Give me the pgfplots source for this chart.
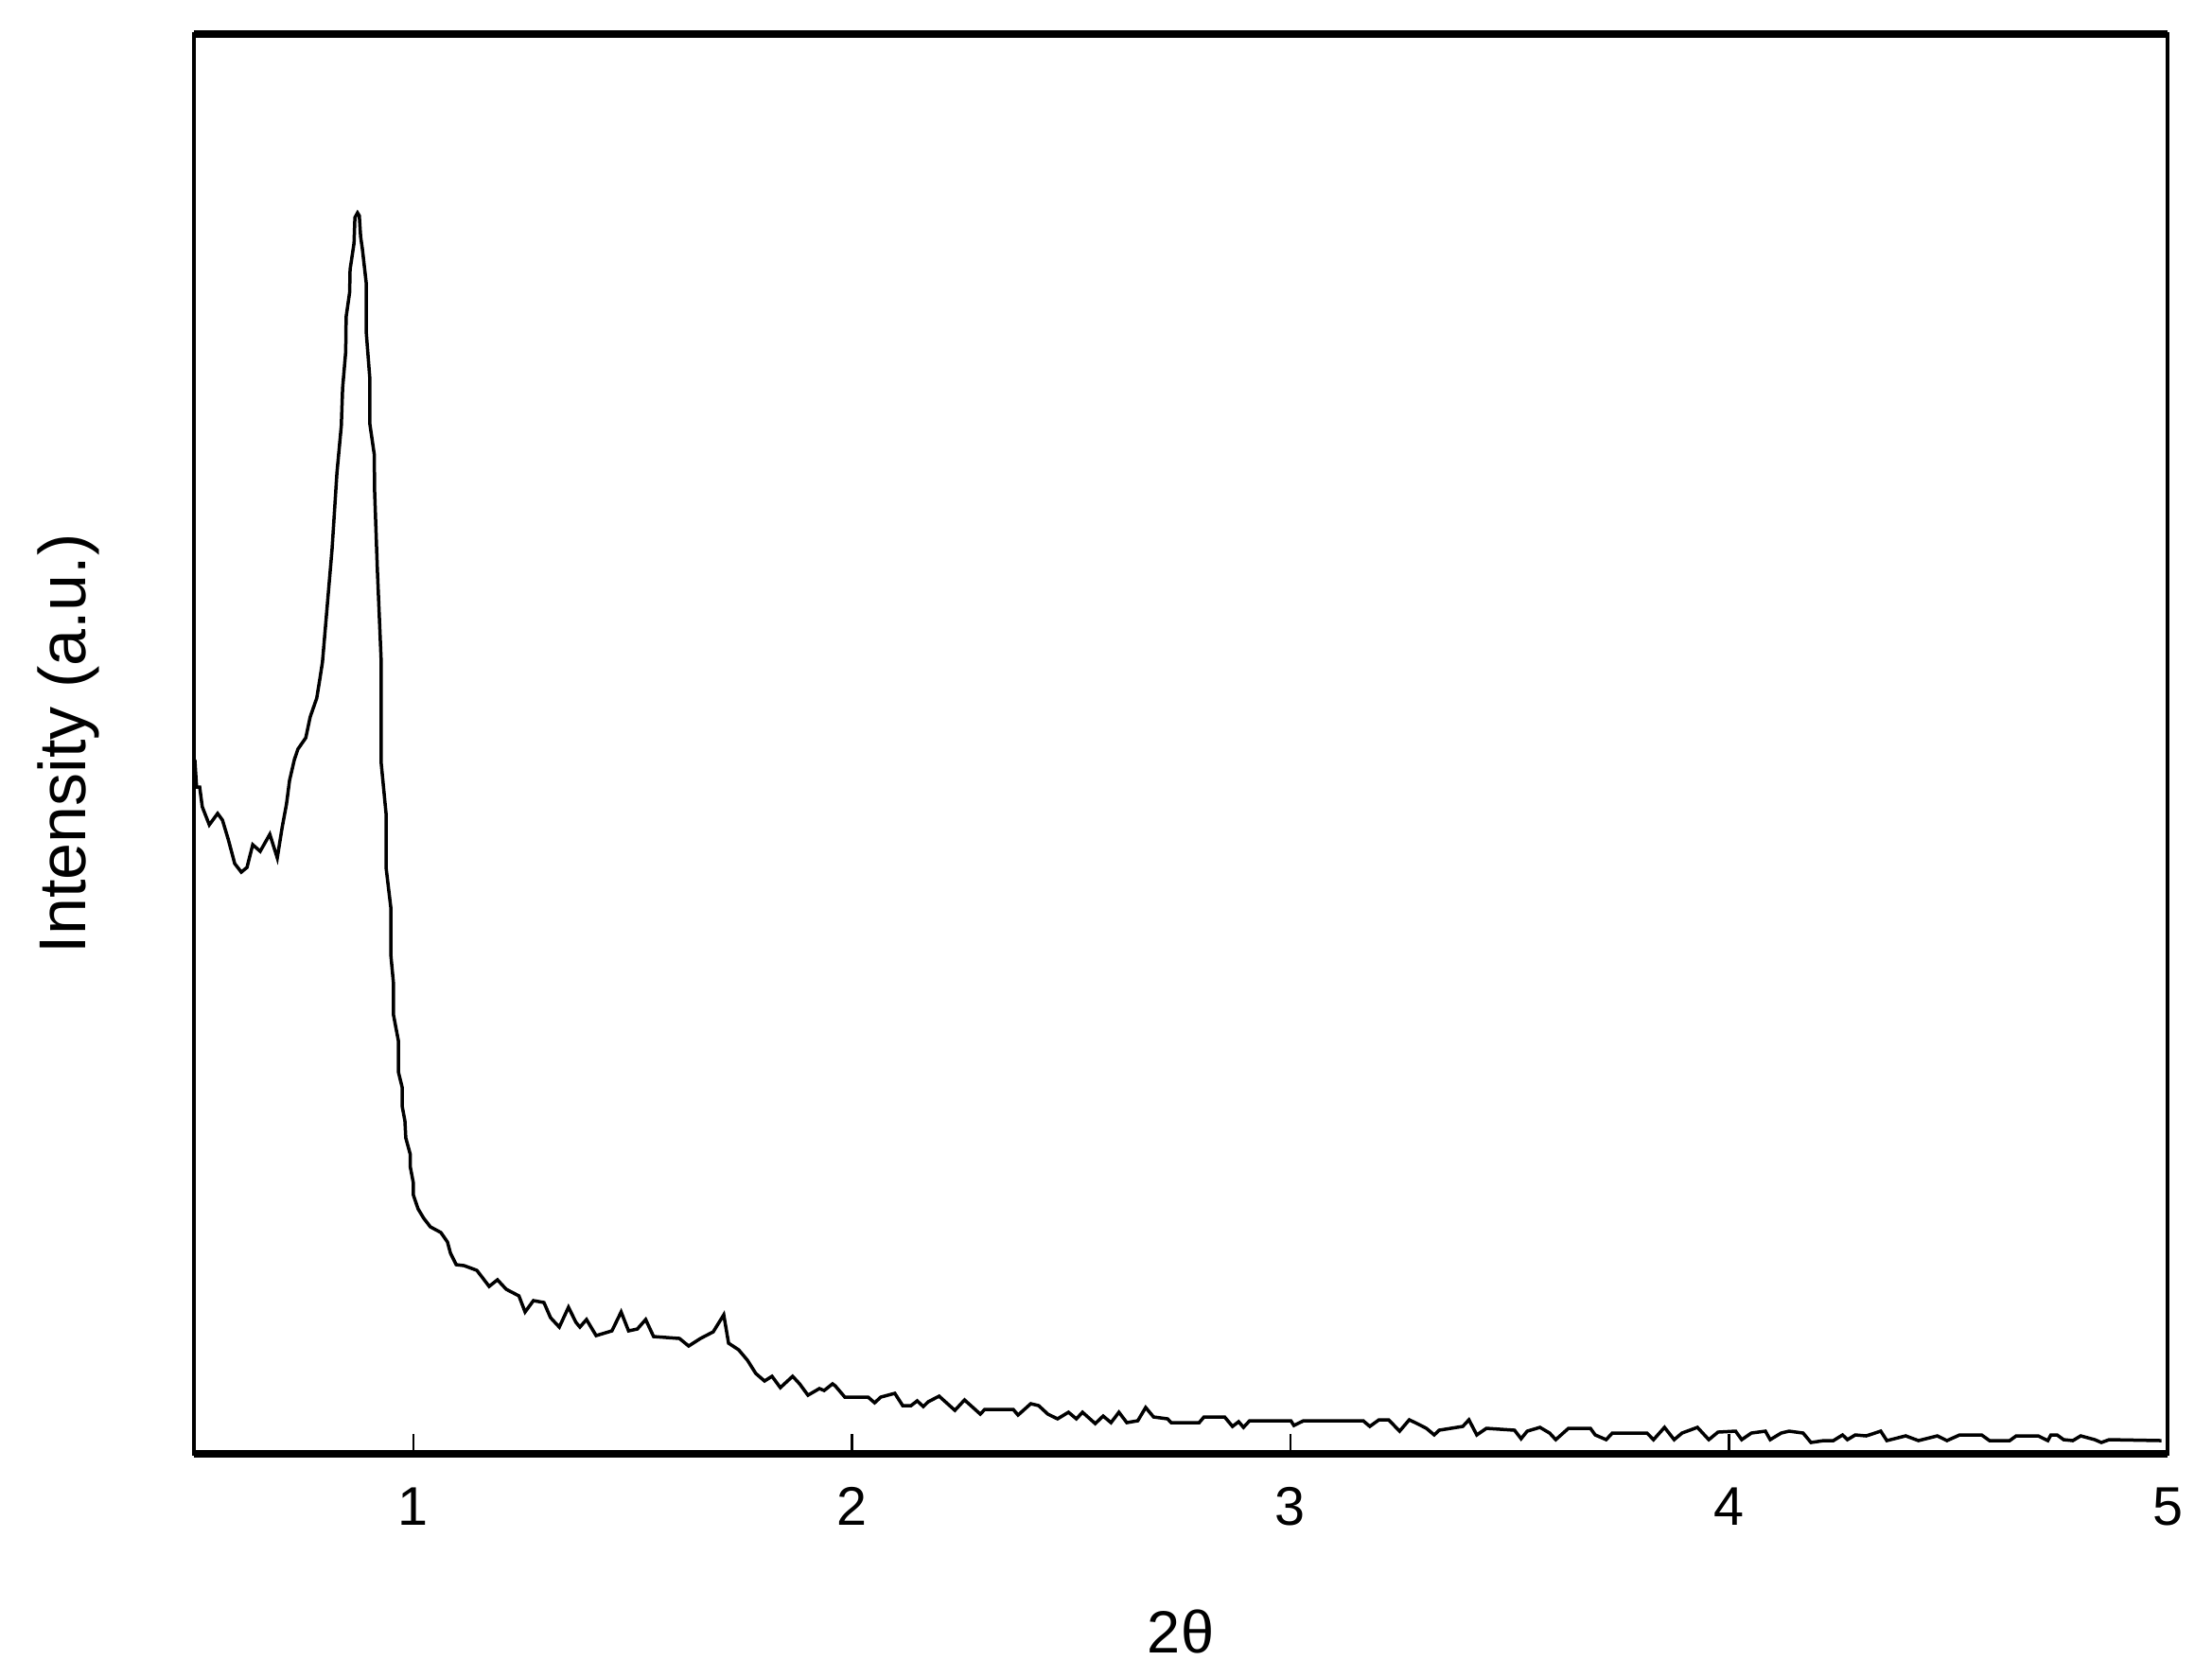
\documentclass[border=0pt]{standalone}
\usepackage{fontspec}
\setmainfont{Liberation Sans}
\usepackage{pgfplots}
\pgfplotsset{compat=1.18}
\begin{document}
\begin{tikzpicture}
\begin{axis}[
  scale only axis,
  width=417.2pt, height=300.3pt,
  xmin=0.5, xmax=5, ymin=4, ymax=1505.5,
  xtick={1,2,3,4,5},
  ytick=\empty,
  xtick pos=bottom,
  tick align=inside,
  major tick length=4.2pt,
  tick style={line width=0.5pt, black},
  axis line style={line width=0.8pt, black},
  /pgf/number format/assume math mode=true,
  xticklabel style={font=\fontsize{11.5}{13}\selectfont, anchor=base, yshift=-15pt},
  xlabel={2θ},
  xlabel style={font=\fontsize{12.6}{14}\selectfont, at={(axis description cs:0.5,-0.1399)}, anchor=base},
  ylabel={Intensity (a.u.)},
  ylabel style={font=\fontsize{14}{16}\selectfont, at={(axis description cs:-0.0547,0.5)}, anchor=base},
  clip=false,
]
\addplot[black, line width=0.7pt] coordinates {
(0.502,738) (0.506,709) (0.513,709) (0.519,688) (0.535,669) (0.554,681) (0.565,674)
(0.578,654) (0.593,628) (0.608,619) (0.621,624) (0.634,648) (0.651,641) (0.673,659)
(0.690,634) (0.701,666) (0.711,691) (0.718,716) (0.729,738) (0.737,749) (0.755,761)
(0.765,783) (0.780,803) (0.787,823) (0.793,841) (0.804,901) (0.815,961) (0.826,1041)
(0.836,1091) (0.839,1131) (0.846,1169) (0.847,1206) (0.855,1232) (0.856,1256)
(0.865,1284) (0.867,1311) (0.873,1316) (0.877,1313) (0.880,1291) (0.884,1278)
(0.893,1241) (0.893,1189) (0.901,1141) (0.901,1093) (0.911,1061) (0.912,1021)
(0.918,941) (0.927,841) (0.927,781) (0.927,734) (0.938,681) (0.938,624) (0.949,581)
(0.949,531) (0.955,501) (0.955,468) (0.966,441) (0.966,408) (0.975,391) (0.975,371)
(0.981,356) (0.983,338) (0.993,321) (0.993,308) (1.000,291) (1.000,278) (1.011,263)
(1.024,253) (1.039,244) (1.063,238) (1.078,228) (1.085,216) (1.098,204) (1.116,203)
(1.145,198) (1.160,189) (1.173,181) (1.192,188) (1.212,178) (1.241,171) (1.255,154)
(1.274,166) (1.298,164) (1.313,148) (1.333,138) (1.354,159) (1.371,143) (1.380,138)
(1.395,146) (1.417,129) (1.453,134) (1.474,154) (1.491,134) (1.511,136) (1.530,146)
(1.548,128) (1.607,126) (1.628,118) (1.655,126) (1.684,133) (1.708,151) (1.719,121)
(1.742,114) (1.762,103) (1.781,89) (1.801,81) (1.818,86) (1.837,74) (1.865,86)
(1.881,78) (1.900,66) (1.926,73) (1.937,71) (1.956,78)
(1.962,76) (1.984,64) (2.037,64) (2.052,58) (2.066,64) (2.098,68) (2.116,55)
(2.135,55) (2.149,60) (2.163,54) (2.174,59) (2.199,65) (2.235,50) (2.257,61)
(2.293,46) (2.303,51) (2.368,51) (2.379,45) (2.408,57) (2.426,55) (2.447,46)
(2.469,41) (2.494,48) (2.512,41) (2.526,48) (2.555,36) (2.573,44) (2.591,37)
(2.609,48) (2.627,37) (2.652,39) (2.670,53) (2.688,43) (2.720,41) (2.728,37)
(2.792,37) (2.803,43) (2.850,43) (2.868,33) (2.882,38) (2.893,32) (2.907,39)
(3.001,39) (3.008,34) (3.030,39) (3.166,39) (3.181,33) (3.202,40) (3.224,40)
(3.249,28) (3.271,40) (3.289,36) (3.310,31) (3.328,24) (3.339,29) (3.393,33)
(3.407,40) (3.425,24) (3.447,31) (3.511,29) (3.526,20) (3.540,28) (3.569,32)
(3.591,26) (3.605,19) (3.634,31) (3.684,31) (3.695,24) (3.720,19) (3.734,26)
(3.813,26) (3.828,19) (3.853,32) (3.875,19) (3.893,26) (3.928,32) (3.954,19)
(3.975,27) (4.015,28) (4.029,19) (4.051,26) (4.083,28) (4.094,19) (4.119,26)
(4.137,28) (4.169,26) (4.187,16) (4.216,18) (4.238,18) (4.259,24) (4.270,19)
(4.288,24) (4.313,23) (4.346,28) (4.360,18) (4.403,23) (4.432,18) (4.475,23)
(4.497,18) (4.526,24) (4.576,24) (4.594,18) (4.640,18) (4.655,23) (4.705,23)
(4.727,18) (4.734,24) (4.748,24) (4.763,19) (4.784,18) (4.802,23) (4.834,19)
(4.849,16) (4.867,19) (4.986,18)
};
\draw[line width=1.6pt, black] (rel axis cs:0,0) -- (rel axis cs:1,0);
\draw[line width=1.6pt, black] (rel axis cs:0,1) -- (rel axis cs:1,1);
\path (rel axis cs:0,0) ++(-41pt,-47.2pt) coordinate (bbsw);
\path (rel axis cs:1,1) ++(9.4pt,7.1pt) coordinate (bbne);
\end{axis}
\path (bbsw) rectangle (bbne);
\end{tikzpicture}
\end{document}
